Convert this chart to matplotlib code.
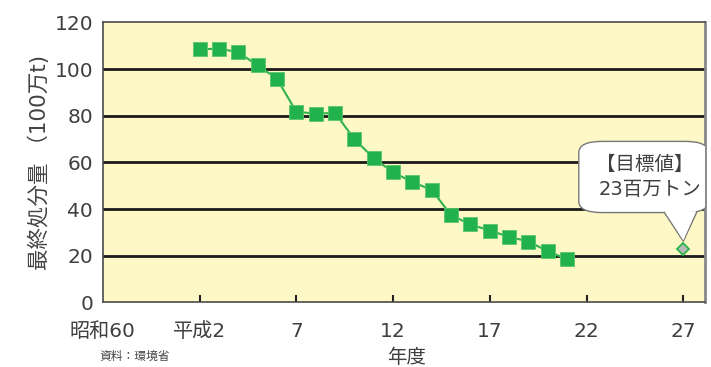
import matplotlib
matplotlib.use("Agg")
import matplotlib.pyplot as plt
from matplotlib.patches import FancyBboxPatch, Polygon

plt.rcParams['font.family'] = ['DejaVu Sans', 'Noto Sans CJK JP']

# Final disposal amount (million t), fiscal years 1990 (H2) .. 2009 (H21)
years = list(range(1990, 2010))
disposal = [108.4, 108.8, 107.2, 101.6, 95.9, 81.7, 80.9, 81.2, 70.0, 61.8,
            55.8, 51.6, 48.2, 37.4, 33.4, 30.8, 28.1, 26.1, 21.9, 18.5]
target_year = 2015
target_value = 23

tick_years = [1985, 1990, 1995, 2000, 2005, 2010, 2015]
tick_labels = ['昭和60', '平成2', '7', '12', '17', '22', '27']
y_ticks = [0, 20, 40, 60, 80, 100, 120]

text_color = '#3f3f3f'

fig = plt.figure(figsize=(7.11, 3.67), dpi=100)
ax = fig.add_axes([0.1445, 0.176, 0.8465, 0.763])
ax.set_facecolor('#FEF8C6')

ax.set_xlim(1985, 2016.1)
ax.set_ylim(0, 120)

for v in y_ticks[1:-1]:
    ax.axhline(v, color='#1a1a1a', lw=2.0, zorder=1)

ax.plot(years, disposal, color='#2DB34A', lw=1.5, marker='s', ms=9.5,
        mfc='#22B24C', mec='#5BC46E', mew=0.6, zorder=3)
ax.plot([target_year], [target_value], marker='D', ms=6.5, mfc='#B8B8B8',
        mec='#2DB34A', mew=1.3, ls='none', zorder=4)

for s in ax.spines.values():
    s.set_color('#4a4a4a')
    s.set_linewidth(1.2)
ax.spines['right'].set_color('#888888')
ax.spines['right'].set_linewidth(2)

ax.set_yticks(y_ticks)
ax.set_yticklabels([str(v) for v in y_ticks], fontsize=14.5, color=text_color)
ax.tick_params(axis='y', length=0, pad=7)
ax.set_xticks(tick_years)
ax.set_xticklabels(tick_labels, fontsize=14.5, color=text_color)
ax.tick_params(axis='x', direction='in', length=5, width=1.5, color='#222222', pad=14)
# the first tick sits on the left spine; hide its mark
ax.get_xticklines()[0].set_visible(False)

ax.set_ylabel('最終処分量 （100万t)', fontsize=15.5, color='#444444', labelpad=3)
fig.text(0.572, 0.027, '年度', fontsize=14, color=text_color, ha='center', va='center')
fig.text(0.14, 0.012, '資料：環境省', fontsize=8.5, color='#444444', ha='left', va='bottom')

# Callout for the target value
bx0, bx1 = 2009.6, 2016.3
by0, by1 = 38.5, 69.0
callout = FancyBboxPatch((bx0, by0), bx1 - bx0, by1 - by0,
                         boxstyle='round,pad=0,rounding_size=1.2',
                         mutation_aspect=4.0,
                         fc='white', ec='#777777', lw=1.0, zorder=5, clip_on=True)
ax.add_patch(callout)
pointer = Polygon([(2014.0, by0 + 0.3), (target_year, target_value + 3.2), (2015.7, by0 + 0.3)],
                  closed=False, fc='white', ec='#777777', lw=1.0, zorder=6)
ax.add_patch(pointer)
ax.add_patch(Polygon([(2014.05, by0 + 0.6), (target_year, target_value + 3.6), (2015.65, by0 + 0.6)],
                     closed=True, fc='white', ec='none', zorder=6))
ax.text(2013.0, 59.0, '【目標値】', fontsize=14, color=text_color, ha='center', va='center', zorder=7)
ax.text(2013.3, 48.2, '23百万トン', fontsize=14, color=text_color, ha='center', va='center', zorder=7)

fig.savefig('out.png', dpi=100)
